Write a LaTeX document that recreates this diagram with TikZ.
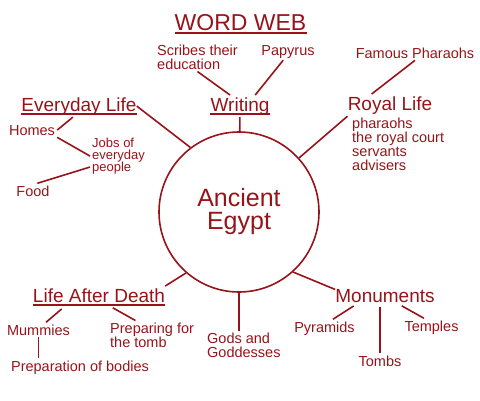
\documentclass[tikz,border=0pt]{standalone}
\usepackage{fontspec}
\setmainfont{Liberation Sans}
\definecolor{egred}{RGB}{150,20,25}

\begin{document}
\begin{tikzpicture}[x=1pt, y=-1pt, every node/.style={text=egred, inner sep=2pt},
    heading/.style={font=\fontsize{19}{19}\selectfont, anchor=base, inner xsep=0pt},
    item/.style={font=\fontsize{14.5}{14}\selectfont, anchor=base},
    itemlist/.style={font=\fontsize{14.5}{14}\selectfont, anchor=north west, align=left},
    link/.style={draw=egred, line width=1.6pt}]

        \useasboundingbox (0,0) rectangle (480,400);

        \node[heading, font=\fontsize{23}{23}\selectfont] at (240.5, 30) (title) {WORD WEB};

        \node[circle, draw=egred, line width=1.6pt, minimum size=160pt, inner sep=0pt, align=center,
              font=\fontsize{25}{23}\selectfont] at (239, 212) (eg) {Ancient\\Egypt};

        \node[heading] at (79, 111) (ev) {Everyday Life};
        \node[heading] at (240, 111) (wr) {Writing};
        \node[heading] at (390, 110) (rl) {Royal Life};
        \node[heading] at (99, 302) (lad) {Life After Death};
        \node[heading] at (385, 302) (mo) {Monuments};

        \node[itemlist] at (155, 42.5) (sc) {Scribes their\\education};
        \node[item] at (288, 55) (pap) {Papyrus};
        \node[item] at (415, 58) (fp) {Famous Pharaohs};
        \node[itemlist] at (350, 115.5) (pl) {pharaohs\\the royal court\\servants\\advisers};

        \node[item] at (32, 135) (hm) {Homes};
        \node[itemlist, font=\fontsize{13}{12.3}\selectfont] at (90, 135.5) (jb) {Jobs of\\everyday\\people};
        \node[item] at (33, 196) (fd) {Food};

        \node[item] at (38.5, 335) (mu) {Mummies};
        \node[itemlist] at (108, 320.5) (pr) {Preparing for\\the tomb};
        \node[item] at (80, 371) (pb) {Preparation of bodies};

        \node[itemlist] at (205, 330.5) (gd) {Gods and\\Goddesses};

        \node[item] at (324.5, 332) (py) {Pyramids};
        \node[item] at (380, 366) (tb) {Tombs};
        \node[item] at (431.5, 331) (te) {Temples};

        % underlined headings
        \foreach \n in {title, ev, wr, lad}
            \draw[egred, line width=1.1pt] ([yshift=-3pt]\n.base west) -- ([yshift=-3pt]\n.base east);

        \draw[link] (sc.south) -- (wr.132);
        \draw[link] (pap.-119) -- (wr.36);
        \draw[link] (wr) -- (eg);

        \draw[link] (fp.south) -- (rl.149);
        \draw[link] (rl.south west) -- (eg.42);

        \draw[link] (ev.east) -- (eg.127);
        \draw[link] (ev.-119) -- (hm.east);
        \draw[link] (hm.south east) -- (jb.west);
        \draw[link] (jb.201) -- (fd.60);

        \draw[link] (lad.north east) -- (eg.229);
        \draw[link, shorten <=7pt] (lad.196) -- (mu.45);
        \draw[link, shorten <=7pt] (lad.-50) -- (pr.139);
        \draw[link] (mu.south) -- (mu.south |- pb.north);

        \draw[link] (eg.south) -- (eg.south |- gd.north);

        \draw[link] (mo.173) -- (eg.312);
        \draw[link, shorten <=3pt] (mo.197) -- (py.47);
        \draw[link, shorten <=3pt] (tb.north |- mo.south) -- (tb.north);
        \draw[link, shorten <=3pt] (mo.-32) -- (te.130);
\end{tikzpicture}
\end{document}
